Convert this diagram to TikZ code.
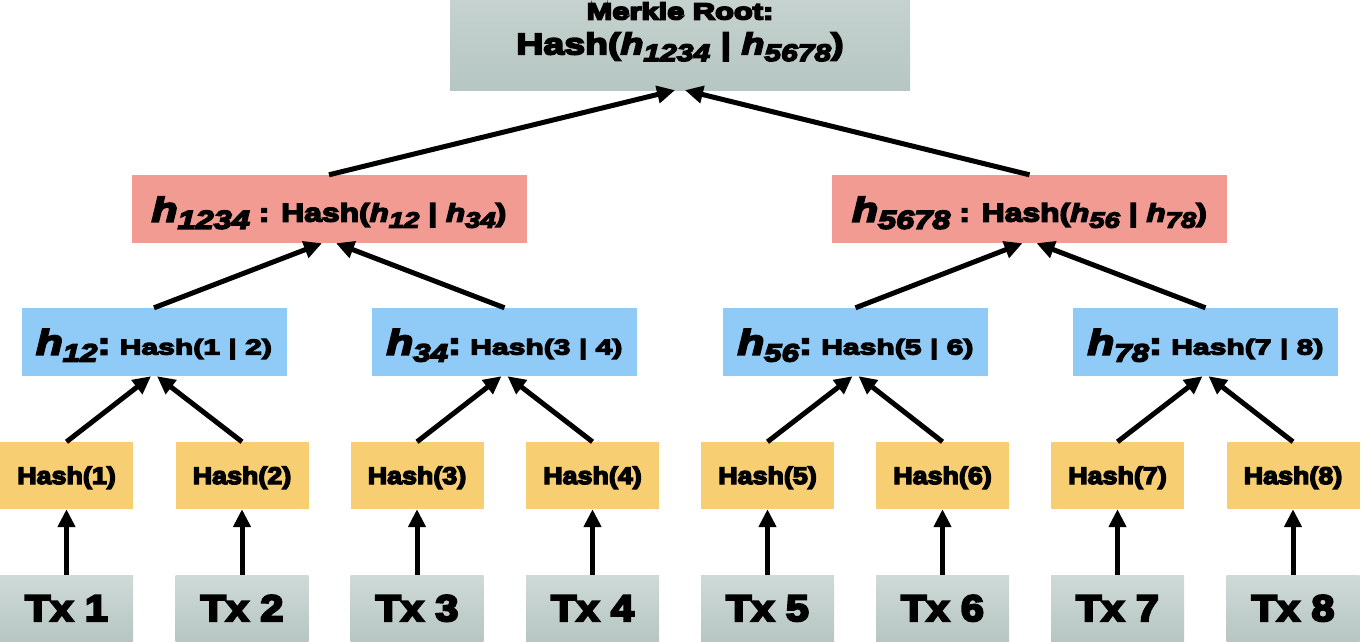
\documentclass[tikz,border=0pt]{standalone}
\usepackage{fontspec}
\setmainfont{Liberation Sans}
\newfontfamily\fontA{Liberation Sans}[FakeStretch=1.12,FakeBold=6]
\newfontfamily\fontB{Liberation Sans}[FakeStretch=1.25,FakeBold=6]
\newfontfamily\fontC{Liberation Sans}[FakeStretch=1.34,FakeBold=8]
\newfontfamily\fontD{Liberation Sans}[FakeStretch=1.4,FakeBold=6]
\usepackage{tikz}
\usetikzlibrary{arrows.meta}

\definecolor{txTop}{RGB}{207,218,215}
\definecolor{txBottom}{RGB}{182,198,194}
\definecolor{leafYellow}{RGB}{248,206,114}
\definecolor{pairBlue}{RGB}{143,203,246}
\definecolor{halfRed}{RGB}{242,155,146}

% h with a large subscript: h size, subscript size, digits
\newcommand{\hsym}[3]{{\fontsize{#1}{#1}\selectfont\itshape h}{\fontsize{#2}{#2}\selectfont\itshape\raisebox{-0.28em}{#3}}}

\tikzset{
    box/.style={rectangle, inner sep=0pt, text=black},
    txbox/.style={box, minimum width=133pt, minimum height=67pt, top color=txTop, bottom color=txBottom,
        font=\fontA\bfseries\fontsize{37}{40}\selectfont, text height=26pt, text depth=1pt},
    leafbox/.style={box, minimum width=133pt, minimum height=67pt, fill=leafYellow,
        font=\fontA\bfseries\fontsize{24}{28}\selectfont, text height=20pt, text depth=3pt},
    pairbox/.style={box, minimum width=265pt, minimum height=68pt, fill=pairBlue,
        font=\fontB\bfseries\fontsize{20}{24}\selectfont, text height=26pt, text depth=1pt},
    halfbox/.style={box, minimum width=395pt, minimum height=68pt, fill=halfRed,
        font=\fontB\bfseries\fontsize{25.5}{30}\selectfont, text height=26pt, text depth=1pt},
    rootbox/.style={box, minimum width=460pt, minimum height=89pt, top color=txTop!60!txBottom, bottom color=txBottom,
        font=\fontB\bfseries\fontsize{30}{35}\selectfont, align=center},
    arr/.style={-{Triangle[length=18pt,width=17pt]}, line width=5pt},
}

\begin{document}
\begin{tikzpicture}[x=1pt, y=-1pt]
        \useasboundingbox (0,0) rectangle (1363,642);

        % Merkle root
        \node[rootbox] (root) at (680,45.5) {{\fontC\bfseries\fontsize{23}{23}\selectfont Merkle Root:}\\Hash(\hsym{30}{24}{1234} | \hsym{30}{24}{5678})\rule[-34pt]{0pt}{34pt}};

        % Two halves
        \node[halfbox] (h1234) at (329,209) {\hsym{34}{26}{1234} : Hash(\hsym{25}{22}{12} | \hsym{25}{22}{34})};
        \node[halfbox] (h5678) at (1029.5,209) {\hsym{34}{26}{5678} : Hash(\hsym{25}{22}{56} | \hsym{25}{22}{78})};

        % Pair hashes
        \node[pairbox] (h12) at (154,342) {\hsym{35}{25}{12}{\fontsize{31}{31}\selectfont:} {\fontD\bfseries\fontsize{21.5}{24}\selectfont Hash(1 | 2)}};
        \node[pairbox] (h34) at (504.5,342) {\hsym{35}{25}{34}{\fontsize{31}{31}\selectfont:} {\fontD\bfseries\fontsize{21.5}{24}\selectfont Hash(3 | 4)}};
        \node[pairbox] (h56) at (855.5,342) {\hsym{35}{25}{56}{\fontsize{31}{31}\selectfont:} {\fontD\bfseries\fontsize{21.5}{24}\selectfont Hash(5 | 6)}};
        \node[pairbox] (h78) at (1205.5,342) {\hsym{35}{25}{78}{\fontsize{31}{31}\selectfont:} {\fontD\bfseries\fontsize{21.5}{24}\selectfont Hash(7 | 8)}};

        % Leaf hashes
        \node[leafbox] (hash1) at (66.5,475.5) {Hash(1)};
        \node[leafbox] (hash2) at (242,475.5) {Hash(2)};
        \node[leafbox] (hash3) at (417,475.5) {Hash(3)};
        \node[leafbox] (hash4) at (592.5,475.5) {Hash(4)};
        \node[leafbox] (hash5) at (767.5,475.5) {Hash(5)};
        \node[leafbox] (hash6) at (942.5,475.5) {Hash(6)};
        \node[leafbox] (hash7) at (1117.5,475.5) {Hash(7)};
        \node[leafbox] (hash8) at (1293,475.5) {Hash(8)};

        % Transactions
        \node[txbox] (tx1) at (66.5,608.5) {Tx 1};
        \node[txbox] (tx2) at (242,608.5) {Tx 2};
        \node[txbox] (tx3) at (417,608.5) {Tx 3};
        \node[txbox] (tx4) at (592.5,608.5) {Tx 4};
        \node[txbox] (tx5) at (767.5,608.5) {Tx 5};
        \node[txbox] (tx6) at (942.5,608.5) {Tx 6};
        \node[txbox] (tx7) at (1117.5,608.5) {Tx 7};
        \node[txbox] (tx8) at (1293,608.5) {Tx 8};

        % Transactions up to leaf hashes
        \draw[arr] (tx1) -- (hash1);
        \draw[arr] (tx2) -- (hash2);
        \draw[arr] (tx3) -- (hash3);
        \draw[arr] (tx4) -- (hash4);
        \draw[arr] (tx5) -- (hash5);
        \draw[arr] (tx6) -- (hash6);
        \draw[arr] (tx7) -- (hash7);
        \draw[arr] (tx8) -- (hash8);

        % Leaf hashes up to pairs
        \draw[arr] (hash1.north) -- ([xshift=-3pt]h12.south);
        \draw[arr] (hash2.north) -- ([xshift=3pt]h12.south);
        \draw[arr] (hash3.north) -- ([xshift=-3pt]h34.south);
        \draw[arr] (hash4.north) -- ([xshift=3pt]h34.south);
        \draw[arr] (hash5.north) -- ([xshift=-3pt]h56.south);
        \draw[arr] (hash6.north) -- ([xshift=3pt]h56.south);
        \draw[arr] (hash7.north) -- ([xshift=-3pt]h78.south);
        \draw[arr] (hash8.north) -- ([xshift=3pt]h78.south);

        % Pairs up to halves
        \draw[arr] (h12.north) -- ([xshift=-7pt]h1234.south);
        \draw[arr] (h34.north) -- ([xshift=7pt]h1234.south);
        \draw[arr] (h56.north) -- ([xshift=-7pt]h5678.south);
        \draw[arr] (h78.north) -- ([xshift=7pt]h5678.south);

        % Halves up to the root
        \draw[arr] (h1234.north) -- ([xshift=-5pt]root.south);
        \draw[arr] (h5678.north) -- ([xshift=5pt]root.south);

\end{tikzpicture}
\end{document}
